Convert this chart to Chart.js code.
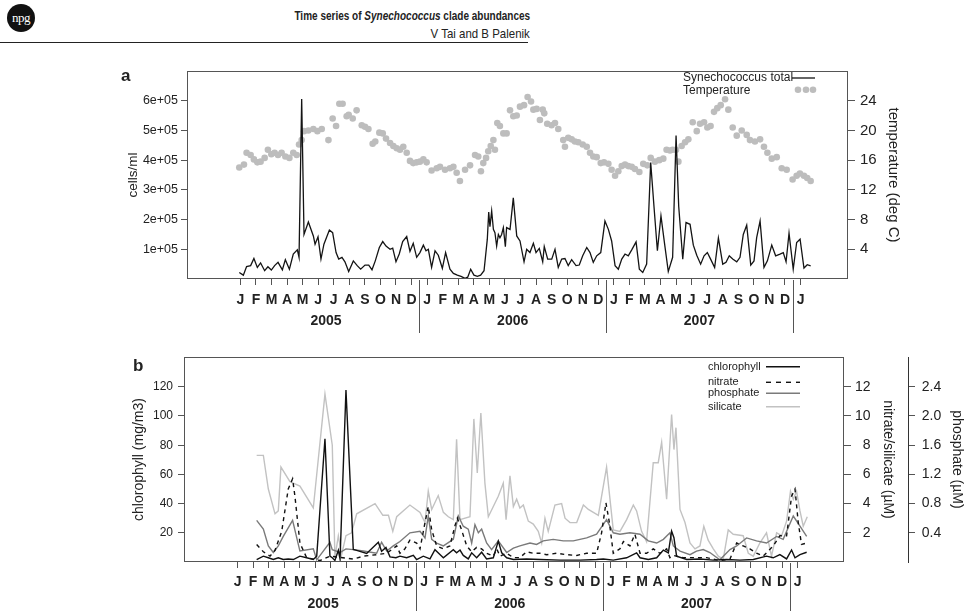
<!DOCTYPE html>
<html>
<head>
<meta charset="utf-8">
<title>Time series of Synechococcus clade abundances</title>
<script src="https://cdn.jsdelivr.net/npm/chart.js@4.4.1/dist/chart.umd.min.js"></script>
<style>
  html, body { margin: 0; padding: 0; background: #fff; }
  body { position: relative; width: 967px; height: 611px; overflow: hidden;
         font-family: "Liberation Sans", Arial, sans-serif; color: #222; }
  canvas { position: absolute; left: 0; }
  #logo { position: absolute; left: 7px; top: 4px; width: 28px; height: 28px; border-radius: 50%;
          background: #111; color: #fff; font: 13px/27px "Liberation Serif", serif;
          text-align: center; letter-spacing: -0.5px; }
  .head { position: absolute; right: 437px; white-space: nowrap; transform-origin: right center;
          font-family: "Liberation Sans", Arial, sans-serif; line-height: 15px; }
  #title { top: 8px; font-size: 13px; font-weight: bold; transform: scaleX(0.77); }
  #authors { top: 26px; font-size: 13.5px; transform: scaleX(0.85); }
  #rule { position: absolute; left: 0; top: 42px; width: 528px; border-top: 1px solid #222; }
  .panel { position: absolute; font-weight: bold; font-size: 17px; line-height: 17px; }
</style>
</head>
<body>
<div id="logo">npg</div>
<div class="head" id="title">Time series of <i>Synechococcus</i> clade abundances</div>
<div class="head" id="authors">V Tai and B Palenik</div>
<div id="rule"></div>

<canvas id="chartA" width="967" height="296" style="top:44px"></canvas>
<canvas id="chartB" width="967" height="271" style="top:340px"></canvas>
<div class="panel" style="left:121px;top:67px">a</div>
<div class="panel" style="left:133px;top:357px">b</div>

<script>
// time is in months counted from 1 Jan 2005 (0 = 1 Jan 2005, 12 = 1 Jan 2006 ...)
const monthLetters = ['J', 'F', 'M', 'A', 'M', 'J', 'J', 'A', 'S', 'O', 'N', 'D'];
const yearLabels = ['2005', '2006', '2007'];
const yearMiddles = [6, 18, 30];
const yearBreaks = [12, 24, 36];

// ---------------- panel a: Synechococcus total (x1000 cells/ml) ----------------
const synMonths = [
  0.43, 0.69, 0.90, 1.16, 1.37, 1.59, 1.80, 2.06, 2.27, 2.49, 2.70, 2.92, 3.20, 3.39, 3.65, 3.90, 4.16, 4.27, 4.44, 4.59,
  4.87, 5.19, 5.30, 5.49, 5.68, 5.87, 6.22, 6.43, 6.65, 6.82, 7.03, 7.22, 7.46, 7.76, 8.01, 8.23, 8.51, 8.75, 8.96, 9.17,
  9.43, 9.65, 9.86, 10.12, 10.29, 10.50, 10.71, 10.93, 11.19, 11.40, 11.61, 11.83, 12.04,
  12.26, 12.43, 12.58, 12.79, 13.01, 13.22, 13.48, 13.69, 13.97, 14.19, 14.44, 14.68, 14.94, 15.11, 15.30, 15.51, 15.73, 15.94, 16.16, 16.37,
  16.46, 16.54, 16.65, 16.76, 16.86, 16.97, 17.08, 17.18, 17.29, 17.40, 17.53, 17.61, 17.83, 18.04, 18.26, 18.47, 18.73, 18.90, 19.11, 19.33,
  19.50, 19.71, 19.93, 20.03, 20.25, 20.51, 20.72, 20.93, 21.15, 21.36, 21.57, 21.79, 22.07, 22.28, 22.50, 22.76, 22.97, 23.18, 23.40, 23.66,
  23.93, 24.15, 24.36, 24.58, 24.79, 25.01, 25.22, 25.43, 25.65, 25.93, 26.14, 26.36, 26.61, 26.87, 27.08, 27.30, 27.53, 27.75, 28.00, 28.28,
  28.50, 28.67, 28.93, 29.14, 29.40, 29.61, 29.83, 30.08, 30.30, 30.51, 30.72, 30.98, 31.22, 31.50, 31.71, 31.92, 32.14, 32.40, 32.61, 32.82,
  33.04, 33.30, 33.51, 33.68, 33.90, 34.15, 34.37, 34.65, 34.90, 35.18, 35.39, 35.57, 35.76, 36.03, 36.25, 36.47, 36.72, 36.93, 37.15
];
const synCells = [
  22, 13, 42, 45, 69, 39, 54, 28, 41, 30, 45, 56, 31, 65, 33, 84, 98, 73, 606, 150,
  192, 145, 117, 142, 67, 117, 165, 156, 89, 67, 73, 58, 25, 61, 45, 33, 47, 47, 31, 61,
  106, 126, 111, 100, 104, 58, 84, 126, 143, 93, 120, 73, 89,
  114, 95, 100, 39, 95, 80, 36, 89, 33, 19, 13, 9, 2, 6, 33, 13, 9, 13, 28, 134,
  225, 176, 229, 167, 156, 111, 150, 139, 150, 173, 109, 173, 167, 273, 145, 128, 58, 100, 89, 120,
  89, 103, 58, 109, 67, 67, 100, 39, 67, 69, 45, 65, 45, 47, 78, 106, 89, 56, 78, 89,
  195, 167, 128, 45, 33, 67, 84, 78, 98, 125, 33, 22, 50, 392, 245, 95, 212, 123, 25, 73,
  483, 245, 67, 190, 184, 114, 80, 50, 78, 89, 67, 39, 138, 50, 56, 78, 67, 58, 73, 150,
  181, 47, 61, 139, 195, 39, 61, 114, 78, 84, 89, 58, 154, 33, 123, 134, 37, 48, 44
];

// ---------------- panel a: temperature (deg C) ----------------
const tempMonths = [
  0.43, 0.73, 0.90, 1.16, 1.37, 1.59, 1.80, 2.06, 2.27, 2.49, 2.70, 2.92, 3.15, 3.39, 3.65, 3.90, 4.12, 4.27, 4.44, 4.59,
  4.87, 5.19, 5.45, 5.73, 6.16, 6.43, 6.65, 6.86, 7.07, 7.33, 7.46, 7.72, 7.97, 8.30, 8.51, 8.73, 9.00, 9.17, 9.43, 9.65,
  9.86, 10.12, 10.33, 10.55, 10.76, 10.97, 11.19, 11.40, 11.61, 11.83, 12.04,
  12.26, 12.47, 12.79, 13.12, 13.33, 13.65, 13.97, 14.19, 14.40, 14.61, 14.94, 15.26, 15.58, 15.79, 15.96, 16.11, 16.29, 16.43, 16.59, 16.76,
  16.86, 17.01, 17.18, 17.40, 17.61, 17.83, 18.04, 18.26, 18.47, 18.73, 18.96, 19.18, 19.33, 19.54, 19.75, 19.93, 20.03, 20.22, 20.50, 20.72,
  20.93, 21.25, 21.36, 21.57, 21.79, 22.00, 22.22, 22.50, 22.76, 22.97, 23.18, 23.40, 23.66, 23.87, 24.15, 24.36, 24.58, 24.79, 25.01, 25.22,
  25.43, 25.65, 25.86, 26.14, 26.39, 26.65, 26.87, 27.14, 27.42, 27.68, 27.89, 28.11, 28.28, 28.50, 28.65, 28.86, 29.08, 29.29, 29.57, 29.83,
  30.04, 30.30, 30.51, 30.72, 30.94, 31.15, 31.37, 31.65, 31.86, 32.14, 32.40, 32.72, 33.04, 33.25, 33.57, 33.90, 34.15, 34.37, 34.65, 34.97,
  35.29, 35.61, 35.99, 36.25, 36.46, 36.72, 36.93, 37.15
];
const tempC = [
  15.0, 15.4, 17.0, 16.7, 16.1, 15.7, 15.8, 16.3, 17.4, 16.8, 17.0, 16.7, 17.0, 16.5, 16.3, 17.0, 16.7, 18.1, 18.7, 19.9,
  20.0, 20.2, 19.9, 20.2, 18.7, 21.6, 20.6, 23.6, 23.6, 21.9, 22.1, 21.6, 22.7, 20.7, 20.5, 20.2, 18.2, 18.5, 19.7, 19.6,
  18.9, 18.3, 17.9, 17.6, 17.4, 17.8, 17.0, 15.9, 15.6, 15.7, 15.8,
  16.1, 15.7, 14.6, 14.9, 15.1, 14.7, 14.9, 15.1, 14.3, 13.2, 14.7, 15.3, 16.7, 16.5, 14.5, 15.6, 16.3, 17.2, 17.9, 18.7,
  17.4, 21.0, 20.6, 19.6, 19.6, 22.7, 21.9, 22.0, 23.2, 23.4, 24.5, 23.9, 22.8, 22.9, 21.4, 22.8, 22.3, 20.9, 20.7, 21.0,
  20.2, 18.7, 17.8, 19.0, 18.8, 18.5, 18.4, 18.1, 17.8, 17.0, 16.5, 16.4, 15.6, 15.7, 15.5, 14.7, 13.9, 14.5, 15.2, 15.4,
  15.2, 15.1, 14.8, 14.4, 15.5, 15.3, 16.3, 15.8, 16.0, 16.2, 17.4, 17.3, 17.4, 17.4, 15.8, 17.9, 18.4, 18.8, 21.1, 19.9,
  20.9, 21.1, 20.4, 20.6, 22.5, 23.0, 23.4, 24.2, 22.8, 20.4, 19.3, 20.0, 19.4, 18.7, 18.5, 18.8, 17.8, 17.0, 16.2, 16.4,
  14.9, 14.7, 13.4, 13.9, 14.2, 13.9, 13.6, 13.2
];
const cellTicks = [100, 200, 300, 400, 500, 600];
const tempTicks = [4, 8, 12, 16, 20, 24];

// ---------------- panel b: chlorophyll (mg/m3) ----------------
const chlMonths = [
  1.73, 2.16, 2.48, 2.80, 3.12, 3.44, 3.76, 4.09, 4.51, 4.94, 5.37, 5.59, 6.12, 6.44, 6.59, 6.76, 6.98, 7.09, 7.47, 7.94,
  8.16, 8.80, 9.55, 9.76, 10.04, 10.30, 10.68, 10.94, 11.37, 11.80, 12.01, 12.44, 12.87, 13.19, 13.51, 13.73, 14.37, 14.58, 14.80, 15.01,
  15.33, 15.55, 15.87, 16.19, 16.51, 16.94, 17.26, 17.48, 17.80, 18.23, 19.08, 19.94, 21.23, 22.51, 23.58, 24.01, 24.65, 25.51, 26.15, 26.37,
  26.90, 27.44, 27.87, 28.19, 28.40, 28.55, 28.72, 29.37, 30.22, 31.08, 31.93, 32.79, 33.65, 34.50, 34.93, 35.36, 35.79, 36.11, 36.33, 36.65,
  37.08
];
const chlValues = [
  1.7, 4.0, 2.9, 1.7, 2.9, 1.7, 2.1, 1.7, 4.0, 2.9, 1.7, 4.0, 84.4, 4.0, 2.9, 1.0, 8.0, 2.0, 117.7, 8.6,
  8.0, 5.8, 13.6, 7.4, 10.0, 3.5, 2.9, 4.0, 2.9, 4.5, 1.7, 4.0, 2.1, 8.4, 5.1, 2.9, 8.4, 6.3, 8.2, 4.5,
  2.1, 6.3, 2.9, 6.7, 2.1, 2.9, 14.3, 6.3, 2.9, 1.7, 2.1, 1.7, 1.3, 1.3, 1.7, 2.1, 1.3, 2.9, 6.3, 2.9,
  1.7, 2.9, 8.2, 6.3, 21.1, 16.6, 4.0, 1.7, 2.1, 1.3, 1.7, 1.3, 1.7, 4.0, 2.9, 5.1, 2.1, 8.2, 2.9, 5.1,
  6.7
];

// ---------------- panel b: nitrate (uM) ----------------
const nitMonths = [
  1.73, 2.16, 2.59, 2.91, 3.34, 3.76, 4.04, 4.19, 4.51, 4.94, 5.37, 5.80, 6.44, 7.94, 8.59, 9.44, 10.09, 10.73, 10.94, 11.26,
  11.58, 12.01, 12.23, 12.55, 12.76, 12.98, 13.30, 13.73, 14.15, 14.48, 14.63, 14.90, 15.23, 15.55, 15.87, 16.19, 16.51, 16.94, 17.16, 17.37,
  17.80, 18.23, 18.65, 19.08, 19.51, 19.94, 20.37, 21.01, 21.65, 22.30, 22.94, 23.58, 23.90, 24.18, 24.40, 24.65, 25.08, 25.30, 25.72, 26.04,
  26.37, 26.79, 27.22, 27.65, 28.08, 28.29, 28.51, 29.15, 29.79, 30.65, 31.50, 32.15, 32.58, 33.00, 33.43, 33.86, 34.29, 34.93, 35.36, 35.79,
  36.11, 36.33, 36.54, 36.75, 37.08
];
const nitValues = [
  1.2, 0.7, 0.4, 0.8, 2.1, 5.0, 5.7, 4.5, 1.3, 0.3, 0.2, 0.1, 0.4, 0.2, 0.4, 0.5, 0.6, 1.1, 0.6, 0.9,
  1.5, 1.3, 0.9, 2.7, 3.8, 2.2, 1.1, 0.9, 1.1, 2.5, 3.0, 2.2, 1.1, 0.7, 1.0, 0.9, 0.6, 0.4, 0.9, 0.4,
  0.6, 0.3, 0.3, 0.7, 0.6, 0.6, 0.5, 0.6, 0.5, 0.45, 0.6, 0.6, 2.0, 4.05, 2.7, 0.6, 0.9, 1.4, 1.1, 1.9,
  0.6, 0.6, 0.9, 0.6, 0.9, 0.3, 0.45, 0.3, 0.3, 0.3, 0.1, 0.2, 1.3, 1.1, 0.9, 0.6, 0.4, 1.1, 1.8, 1.8,
  4.5, 5.0, 2.7, 1.2, 1.3
];

// ---------------- panel b: phosphate (uM) ----------------
const phosMonths = [
  1.73, 2.16, 2.48, 2.80, 3.12, 3.44, 4.04, 4.51, 5.37, 5.59, 6.44, 6.59, 7.09, 7.47, 7.94, 8.59, 9.44, 9.76, 10.09, 10.51,
  10.94, 11.58, 12.23, 12.55, 12.76, 12.98, 13.30, 13.73, 14.37, 14.69, 15.01, 15.33, 15.55, 15.76, 15.98, 16.19, 16.51, 16.83, 17.26, 17.80,
  18.23, 18.65, 19.30, 19.72, 20.15, 20.79, 21.44, 22.08, 22.94, 23.58, 24.22, 24.65, 25.08, 25.72, 26.37, 26.90, 27.44, 27.87, 28.29, 28.51,
  28.94, 29.58, 30.00, 30.43, 30.86, 31.50, 32.15, 32.58, 33.22, 33.86, 34.50, 35.15, 35.57, 36.22, 36.65, 37.08
];
const phosValues = [
  0.57, 0.45, 0.22, 0.13, 0.22, 0.35, 0.57, 0.15, 0.18, 0.03, 0.27, 0.17, 0.13, 0.18, 0.17, 0.15, 0.12, 0.27, 0.15, 0.22,
  0.28, 0.40, 0.42, 0.33, 0.63, 0.31, 0.26, 0.22, 0.31, 0.63, 0.49, 0.45, 0.26, 0.51, 0.40, 0.45, 0.26, 0.17, 0.29, 0.13,
  0.19, 0.22, 0.26, 0.24, 0.29, 0.31, 0.29, 0.29, 0.33, 0.38, 0.58, 0.40, 0.38, 0.40, 0.38, 0.29, 0.26, 0.31, 0.40, 0.22,
  0.15, 0.10, 0.15, 0.17, 0.13, 0.03, 0.17, 0.22, 0.33, 0.29, 0.26, 0.35, 0.31, 0.63, 0.49, 0.35
];

// ---------------- panel b: silicate (uM) ----------------
const siMonths = [
  1.73, 2.16, 2.48, 2.91, 3.12, 3.29, 3.87, 4.51, 5.37, 6.12, 6.59, 6.76, 6.98, 7.19, 7.47, 7.83, 8.16, 9.34, 9.84, 10.20,
  10.48, 10.73, 11.58, 12.23, 12.55, 12.76, 12.98, 13.40, 13.73, 14.05, 14.37, 14.58, 14.80, 15.44, 15.69, 15.91, 16.14, 16.40, 16.62, 16.94,
  17.26, 17.58, 17.76, 18.01, 18.23, 18.44, 18.65, 18.87, 19.19, 19.51, 19.83, 20.05, 20.26, 20.47, 20.90, 21.33, 21.55, 21.87, 22.30, 22.73,
  23.05, 23.37, 23.69, 24.22, 24.65, 25.08, 25.51, 25.94, 26.15, 26.47, 26.79, 27.22, 27.54, 27.76, 28.08, 28.40, 28.55, 28.68, 28.94, 29.26,
  29.58, 29.90, 30.22, 30.47, 30.75, 31.08, 31.40, 31.72, 32.04, 32.36, 33.00, 33.33, 33.65, 34.07, 34.50, 34.82, 35.15, 35.47, 35.79, 36.04,
  36.22, 36.43, 36.65, 36.86, 37.12
];
const siValues = [
  7.3, 7.3, 5.0, 3.3, 3.5, 6.5, 5.5, 5.2, 3.7, 11.5, 8.0, 0.3, 1.8, 0.5, 1.8, 2.0, 3.3, 4.0, 3.2, 3.2,
  2.1, 3.1, 3.9, 3.4, 2.7, 4.85, 3.6, 4.55, 3.4, 3.1, 2.9, 8.4, 2.9, 3.1, 9.8, 6.1, 10.2, 5.4, 3.1, 3.8,
  4.5, 5.4, 2.9, 5.9, 3.8, 4.3, 3.7, 3.9, 2.8, 2.6, 2.1, 1.3, 3.0, 2.1, 3.9, 4.0, 3.0, 2.7, 2.7, 3.9,
  3.6, 3.4, 3.2, 6.5, 2.2, 2.1, 2.9, 3.9, 3.5, 2.1, 1.4, 6.8, 6.8, 8.2, 4.3, 10.1, 7.7, 9.2, 3.6, 2.7,
  1.3, 0.9, 1.1, 2.45, 1.5, 0.9, 0.4, 0.2, 2.2, 1.9, 1.8, 0.6, 0.4, 1.3, 2.0, 0.4, 2.0, 1.8, 2.8, 4.85,
  4.3, 4.85, 3.5, 2.45, 3.1
];
const chlTicks = [20, 40, 60, 80, 100, 120];
const nsTicks = [2, 4, 6, 8, 10, 12];
const phosTicks = [0.4, 0.8, 1.2, 1.6, 2.0, 2.4];

// --------------------------------------------------------------------------
const FONT = '"Liberation Sans", Arial, Helvetica, sans-serif';
Chart.defaults.font.family = FONT;
Chart.defaults.color = '#222';

const pts = (xs, ys) => xs.map((x, i) => ({ x: x, y: ys[i] }));

const monthCentres = [];
for (let i = 0; i <= 36; i++) monthCentres.push(i + 0.5);

// month letters with a small tick under each one
function monthScale(min, max, height, pad) {
  return {
    type: 'linear', position: 'bottom', min: min, max: max, weight: 0,
    afterBuildTicks: s => { s.ticks = monthCentres.map(v => ({ value: v })); },
    afterFit: s => { s.height = height; },
    grid: { drawOnChartArea: false, drawTicks: true, tickLength: 6, color: '#555' },
    border: { display: false },
    ticks: { autoSkip: false, maxRotation: 0, padding: pad, color: '#222',
             font: { size: 14, weight: 'bold' },
             callback: (v, i) => monthLetters[i % 12] }
  };
}

// year names centred under each block of twelve letters
function yearScale(min, max, height, pad) {
  return {
    type: 'linear', position: 'bottom', min: min, max: max, weight: 1,
    afterBuildTicks: s => { s.ticks = yearMiddles.map(v => ({ value: v })); },
    afterFit: s => { s.height = height; },
    grid: { display: false, drawTicks: false },
    border: { display: false },
    ticks: { autoSkip: false, maxRotation: 0, padding: pad, color: '#222',
             font: { size: 14, weight: 'bold' },
             callback: (v, i) => yearLabels[i] }
  };
}

function valueScale(o) {
  return {
    type: 'linear', position: o.position, min: 0, max: o.max, weight: o.weight || 0,
    afterBuildTicks: s => { s.ticks = o.ticks.map(v => ({ value: v })); },
    afterFit: s => { s.width = o.width; },
    grid: { drawOnChartArea: false, tickLength: o.tickLength, color: '#555' },
    border: o.border ? { display: true, color: '#333' } : { display: false },
    ticks: { padding: o.pad, color: '#222', font: { size: o.size }, callback: o.label },
    title: { display: true, text: o.title, color: '#222', font: { size: o.titleSize },
             padding: { top: o.titlePad, bottom: 0 } }
  };
}

// box round the plot, year separators and the key
const framePlugin = {
  id: 'frame',
  afterDraw(chart, args, opts) {
    const { ctx, chartArea: a } = chart;
    const xs = chart.scales.x;
    ctx.save();
    ctx.strokeStyle = '#555';
    ctx.lineWidth = 1;
    ctx.strokeRect(Math.round(a.left) + 0.5, Math.round(a.top) + 0.5,
                   Math.round(a.right - a.left) - 1, Math.round(a.bottom - a.top) - 1);
    yearBreaks.forEach(m => {
      const x = Math.round(xs.getPixelForValue(m)) + 0.5;
      ctx.beginPath();
      ctx.moveTo(x, a.bottom + 1);
      ctx.lineTo(x, a.bottom + opts.breakLength);
      ctx.stroke();
    });

    ctx.font = opts.keyFont;
    ctx.textAlign = 'left';
    ctx.textBaseline = 'middle';
    opts.key.forEach(k => {
      const y = a.top + k.dy;
      ctx.fillStyle = '#222';
      ctx.fillText(k.text, a.right + opts.textX, y);
      if (k.dots) {
        ctx.fillStyle = k.color;
        k.dots.forEach(dx => {
          ctx.beginPath();
          ctx.arc(a.right + dx, y - 1, 3.3, 0, Math.PI * 2);
          ctx.fill();
        });
      } else {
        ctx.strokeStyle = k.color;
        ctx.lineWidth = k.width;
        ctx.setLineDash(k.dash || []);
        ctx.beginPath();
        ctx.moveTo(a.right + opts.lineX[0], y);
        ctx.lineTo(a.right + opts.lineX[1], y);
        ctx.stroke();
        ctx.setLineDash([]);
      }
    });
    ctx.restore();
  }
};

const baseOptions = {
  responsive: false,
  animation: false,
  events: [],
  plugins: { legend: { display: false }, tooltip: { enabled: false } }
};

// ---------------- panel a ----------------
new Chart(document.getElementById('chartA'), {
  type: 'scatter',
  data: {
    datasets: [
      { label: 'Synechococcus total', data: pts(synMonths, synCells), yAxisID: 'y',
        showLine: true, borderColor: '#141414', borderWidth: 1.3, pointRadius: 0, tension: 0 },
      { label: 'Temperature', data: pts(tempMonths, tempC), yAxisID: 'yT',
        showLine: false, pointRadius: 3.3, pointBorderWidth: 0,
        pointBackgroundColor: '#bdbdbd', borderColor: 'rgba(0,0,0,0)' }
    ]
  },
  options: Object.assign({}, baseOptions, {
    layout: { padding: { top: 27, left: 0, right: 0, bottom: 0 } },
    scales: {
      x: monthScale(-2.93, 39.55, 30, 7),
      years: yearScale(-2.93, 39.55, 31, 4),
      y: valueScale({ position: 'left', max: 700, ticks: cellTicks, width: 187, tickLength: 6, pad: 3,
                      size: 12.5, label: v => (v / 100) + 'e+05',
                      title: 'cells/ml', titleSize: 13.5, titlePad: 125 }),
      yT: valueScale({ position: 'right', max: 28, ticks: tempTicks, width: 119, tickLength: 7, pad: 5,
                       size: 15, label: v => String(v),
                       title: 'temperature (deg C)', titleSize: 15, titlePad: 65 })
    },
    plugins: Object.assign({}, baseOptions.plugins, {
      frame: {
        breakLength: 54,
        keyFont: '12px ' + FONT,
        textX: -165,
        lineX: [-56, -33],
        key: [
          { text: 'Synechococcus total', dy: 7, color: '#141414', width: 1.3 },
          { text: 'Temperature', dy: 19.7, color: '#bdbdbd', dots: [-50, -42, -35] }
        ]
      }
    })
  }),
  plugins: [framePlugin]
});

// ---------------- panel b ----------------
new Chart(document.getElementById('chartB'), {
  type: 'scatter',
  data: {
    datasets: [
      { label: 'chlorophyll', data: pts(chlMonths, chlValues), yAxisID: 'y',
        showLine: true, borderColor: '#111', borderWidth: 1.4, pointRadius: 0, tension: 0 },
      { label: 'nitrate', data: pts(nitMonths, nitValues), yAxisID: 'yN',
        showLine: true, borderColor: '#111', borderWidth: 1.4, borderDash: [4, 4], pointRadius: 0, tension: 0 },
      { label: 'phosphate', data: pts(phosMonths, phosValues), yAxisID: 'yP',
        showLine: true, borderColor: '#7a7a7a', borderWidth: 1.4, pointRadius: 0, tension: 0 },
      { label: 'silicate', data: pts(siMonths, siValues), yAxisID: 'yN',
        showLine: true, borderColor: '#c2c2c2', borderWidth: 1.4, pointRadius: 0, tension: 0 }
    ]
  },
  options: Object.assign({}, baseOptions, {
    layout: { padding: { top: 17, left: 0, right: 0, bottom: 0 } },
    scales: {
      x: monthScale(-2.94, 39.48, 28, 6),
      years: yearScale(-2.94, 39.48, 21, 5.6),
      y: valueScale({ position: 'left', max: 140.4, ticks: chlTicks, width: 184, tickLength: 6, pad: 5,
                      size: 12, label: v => String(v),
                      title: 'chlorophyll (mg/m3)', titleSize: 14, titlePad: 131 }),
      // single digits get a figure space in front so the column lines up on the right
      yN: valueScale({ position: 'right', weight: 0, max: 14.04, ticks: nsTicks, width: 64, tickLength: 7, pad: 4,
                       size: 14, label: v => (v < 10 ? '\u2007' : '') + v,
                       title: 'nitrate/silicate (\u00B5M)', titleSize: 14, titlePad: 11.6 }),
      yP: valueScale({ position: 'right', weight: 1, max: 2.808, ticks: phosTicks, width: 59, tickLength: 7, pad: 6.7,
                       size: 14, border: true, label: v => v.toFixed(1),
                       title: 'phosphate (\u00B5M)', titleSize: 14, titlePad: 1.9 })
    },
    plugins: Object.assign({}, baseOptions.plugins, {
      frame: {
        breakLength: 49,
        keyFont: '11px ' + FONT,
        textX: -136,
        lineX: [-78, -44],
        key: [
          { text: 'chlorophyll', dy: 9.7, color: '#111', width: 1.4 },
          { text: 'nitrate', dy: 25.3, color: '#111', width: 1.4, dash: [5, 5] },
          { text: 'phosphate', dy: 36.3, color: '#7a7a7a', width: 1.4 },
          { text: 'silicate', dy: 49.7, color: '#c2c2c2', width: 1.4 }
        ]
      }
    })
  }),
  plugins: [framePlugin]
});
</script>
</body>
</html>
